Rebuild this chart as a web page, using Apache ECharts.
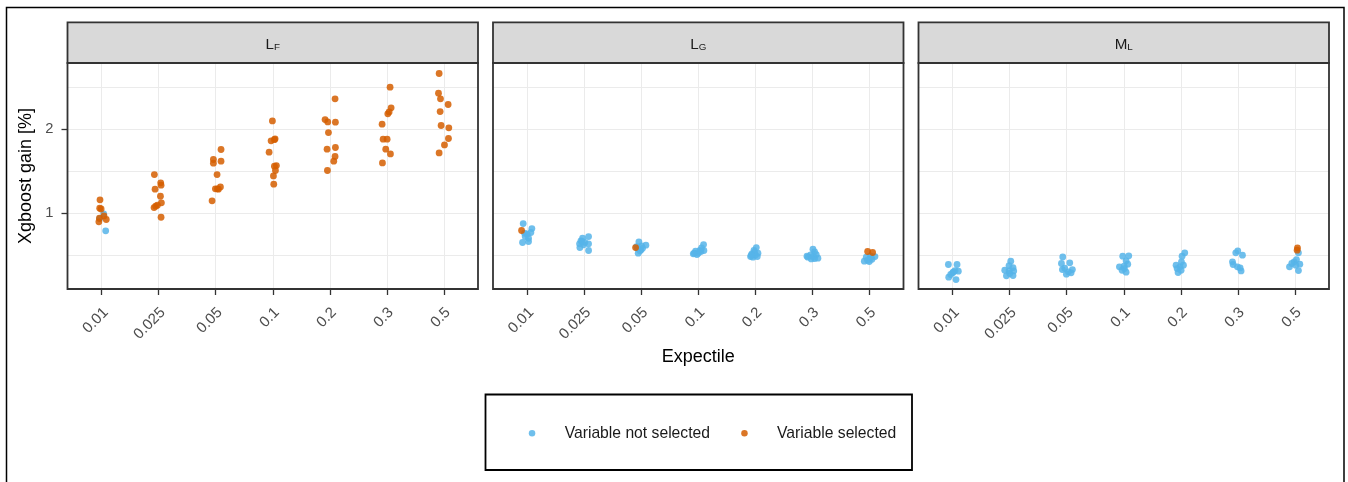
<!DOCTYPE html>
<html><head><meta charset="utf-8">
<script src="https://cdn.jsdelivr.net/npm/echarts@6/dist/echarts.min.js"></script>
<style>html,body{margin:0;padding:0;background:#fff}#c{width:1348px;height:482px}</style>
</head><body><div id="c"></div>
<script>
// ---------- data ----------
const categories = ['0.01', '0.025', '0.05', '0.1', '0.2', '0.3', '0.5'];
const stripMain = ['L', 'L', 'M'];
const stripSub = ['F', 'G', 'L'];
const yTickValues = [1, 2];
const seriesNames = ['Variable not selected', 'Variable selected'];

// each point: [category index, horizontal jitter, gain %]
const lfNotSelected = [[0,0.035,0.992],[0,0.07,0.79],[0,-0.035,0.936]];
const lfSelected = [
  [0,-0.03,1.159],[0,-0.035,1.06],[0,-0.01,1.05],[0,0.04,0.968],[0,-0.04,0.94],[0,0.08,0.925],[0,-0.05,0.897],
  [1,-0.076,1.46],[1,0.035,1.361],[1,0.041,1.333],[1,-0.064,1.286],[1,0.03,1.202],[1,0.047,1.123],[1,-0.023,1.095],[1,-0.053,1.083],[1,-0.082,1.067],[1,0.041,0.952],
  [2,0.093,1.758],[2,-0.041,1.639],[2,-0.041,1.595],[2,0.093,1.619],[2,0.023,1.46],[2,0.082,1.313],[2,-0.006,1.29],[2,0.047,1.286],[2,0.03,1.29],[2,-0.064,1.147],
  [3,-0.006,2.099],[3,0.041,1.885],[3,-0.029,1.861],[3,0.029,1.875],[3,-0.064,1.726],[3,0.064,1.567],[3,0.029,1.56],[3,0.047,1.508],[3,0.012,1.444],[3,0.018,1.345],
  [4,0.093,2.361],[4,-0.082,2.115],[4,-0.035,2.087],[4,0.099,2.083],[4,-0.023,1.96],[4,-0.047,1.762],[4,0.099,1.782],[4,0.093,1.675],[4,0.07,1.619],[4,-0.041,1.508],
  [5,0.058,2.5],[5,0.076,2.254],[5,0.041,2.206],[5,0.018,2.183],[5,-0.082,2.06],[5,-0.064,1.881],[5,0.006,1.881],[5,-0.018,1.762],[5,0.064,1.706],[5,-0.076,1.599],
  [6,-0.082,2.663],[6,-0.093,2.429],[6,-0.058,2.361],[6,0.076,2.294],[6,-0.064,2.21],[6,-0.047,2.044],[6,0.088,2.016],[6,0.082,1.889],[6,0.012,1.813],[6,-0.082,1.718]
];
const lgNotSelected = [
  [0,-0.07,0.877],[0,0.082,0.817],[0,0.064,0.77],[0,-0.047,0.762],[0,0,0.75],[0,0.023,0.702],[0,-0.082,0.651],[0,0.023,0.663],[0,-0.035,0.722],
  [1,0.076,0.722],[1,-0.029,0.702],[1,-0.058,0.671],[1,0.012,0.651],[1,0.076,0.635],[1,-0.082,0.635],[1,-0.012,0.623],[1,-0.076,0.591],[1,0.076,0.556],[1,-0.04,0.663],
  [2,-0.041,0.659],[2,0.082,0.619],[2,0.006,0.611],[2,-0.064,0.579],[2,-0.006,0.563],[2,-0.053,0.524],[2,-0.023,0.552],[2,-0.082,0.603],[2,0.023,0.583],
  [3,0.093,0.627],[3,0.058,0.587],[3,0.099,0.556],[3,0.029,0.556],[3,-0.047,0.548],[3,-0.07,0.524],[3,0,0.524],[3,-0.023,0.508],[3,0.047,0.544],[3,-0.087,0.516],
  [4,0.018,0.591],[4,-0.023,0.556],[4,0.047,0.524],[4,-0.058,0.516],[4,0,0.5],[4,-0.082,0.484],[4,-0.041,0.476],[4,0.035,0.484],[4,-0.012,0.536],[4,-0.07,0.5],
  [5,0.012,0.571],[5,0.041,0.54],[5,0.07,0.508],[5,-0.093,0.488],[5,-0.029,0.504],[5,0.041,0.46],[5,0.099,0.464],[5,-0.076,0.476],[5,0.012,0.484],[5,-0.018,0.456],
  [6,0.099,0.484],[6,0.029,0.472],[6,-0.053,0.476],[6,-0.087,0.429],[6,0,0.425],[6,0.047,0.452],[6,-0.029,0.44],[6,0.018,0.492]
];
const lgSelected = [[0,-0.099,0.794],[2,-0.099,0.591],[6,-0.029,0.544],[6,0.058,0.532]];
const mlNotSelected = [
  [0,-0.076,0.389],[0,0.076,0.389],[0,0.041,0.317],[0,0.099,0.31],[0,0,0.29],[0,-0.035,0.27],[0,-0.07,0.238],[0,0.058,0.21],[0,0.012,0.302],
  [1,0.018,0.429],[1,-0.012,0.377],[1,0.058,0.353],[1,-0.087,0.321],[1,-0.012,0.313],[1,0.07,0.313],[1,-0.058,0.254],[1,0.058,0.258],[1,0,0.282],
  [2,-0.07,0.48],[2,-0.093,0.401],[2,0.053,0.409],[2,-0.035,0.345],[2,0.099,0.329],[2,-0.076,0.329],[2,0.029,0.302],[2,-0.006,0.274],[2,0.076,0.29],
  [3,-0.018,0.488],[3,0.088,0.492],[3,0.041,0.433],[3,0.07,0.393],[3,-0.076,0.361],[3,0.006,0.369],[3,-0.029,0.321],[3,0.041,0.298],[3,0.012,0.341],
  [4,0.07,0.528],[4,0.023,0.488],[4,0.012,0.421],[4,-0.082,0.381],[4,-0.012,0.361],[4,0.047,0.381],[4,-0.064,0.341],[4,-0.047,0.294],[4,0.006,0.321],
  [5,0,0.552],[5,0.082,0.5],[5,-0.093,0.421],[5,-0.082,0.389],[5,0.041,0.349],[5,0.058,0.313],[5,-0.006,0.361],[5,-0.035,0.528],
  [6,0.064,0.528],[6,0.029,0.448],[6,-0.012,0.421],[6,0.088,0.393],[6,-0.053,0.401],[6,-0.093,0.361],[6,0.064,0.317],[6,0.018,0.381]
];
const mlSelected = [[6,0.047,0.587],[6,0.041,0.56]];

const panelData = [
  [lfNotSelected, lfSelected],
  [lgNotSelected, lgSelected],
  [mlNotSelected, mlSelected]
];

// ---------- styling / layout ----------
const FONT = 'Liberation Sans, Arial, Helvetica, sans-serif';
const COLORS = ['#56B4E9', '#D55E00'];
const Y_MIN = 0.0976, Y_MAX = 2.788;
const X_MIN = -0.6, X_MAX = 6.6;
const PANEL_LEFT = [67.5, 493, 918.5];
const PW = 410.5, TOP = 63, PH = 226;
const STRIP_TOP = 22.3, STRIP_H = 40.7;
function yPix(v) { return TOP + (Y_MAX - v) / (Y_MAX - Y_MIN) * PH; }

const grid = [], xAxis = [], yAxis = [], series = [], graphic = [];
const hidden = { show: false };
const off = { axisLine: hidden, axisTick: hidden, axisLabel: hidden, splitLine: hidden };

for (let p = 0; p < 3; p++) {
  const L = PANEL_LEFT[p];
  const g0 = grid.length;
  // A: data grid
  grid.push({ left: L, top: TOP, width: PW, height: PH });
  xAxis.push(Object.assign({ gridIndex: g0, type: 'value', min: X_MIN, max: X_MAX,
    name: p === 1 ? 'Expectile' : '', nameLocation: 'middle', nameGap: 59,
    nameTextStyle: { fontSize: 18, color: '#000', fontFamily: FONT } }, off));
  yAxis.push(Object.assign({ gridIndex: g0, type: 'value', min: Y_MIN, max: Y_MAX,
    name: p === 0 ? 'Xgboost gain [%]' : '', nameLocation: 'middle', nameGap: 32,
    nameTextStyle: { fontSize: 18, color: '#000', fontFamily: FONT } }, off));
  // B: horizontal grid lines (0.5 .. 2.5)
  grid.push({ left: L, width: PW, top: yPix(2.5), height: yPix(0.5) - yPix(2.5) });
  xAxis.push({ gridIndex: g0 + 1, type: 'value', min: 0, max: 1, show: false });
  yAxis.push({ gridIndex: g0 + 1, type: 'value', min: 0.5, max: 2.5, interval: 0.5,
    axisLine: hidden, axisTick: hidden, axisLabel: hidden,
    splitLine: { show: true, lineStyle: { color: '#EBEBEB', width: 1 } } });
  // C: y ticks and labels (left panel only)
  grid.push({ left: L, width: PW, top: yPix(yTickValues[1]), height: yPix(yTickValues[0]) - yPix(yTickValues[1]) });
  xAxis.push({ gridIndex: g0 + 2, type: 'value', min: 0, max: 1, show: false });
  yAxis.push({ gridIndex: g0 + 2, type: 'value', min: yTickValues[0], max: yTickValues[1], interval: 1,
    show: p === 0, axisLine: hidden, splitLine: hidden,
    axisTick: { show: true, length: 6, lineStyle: { color: '#333', width: 1.3 } },
    axisLabel: { show: true, fontSize: 14.7, color: '#4D4D4D', fontFamily: FONT, margin: 14 } });
  // D: x ticks, labels and vertical grid lines
  grid.push({ left: L + (0 - X_MIN) / (X_MAX - X_MIN) * PW, width: 6 / (X_MAX - X_MIN) * PW, top: TOP, height: PH });
  xAxis.push({ gridIndex: g0 + 3, type: 'value', min: 0, max: categories.length - 1, interval: 1,
    axisLine: hidden,
    axisTick: { show: true, length: 6, lineStyle: { color: '#333', width: 1.3 } },
    axisLabel: { show: true, rotate: 45, margin: 17, fontSize: 15, color: '#4D4D4D', fontFamily: FONT,
      verticalAlign: 'top', lineHeight: 12,
      formatter: v => categories[Math.round(v)] },
    splitLine: { show: true, lineStyle: { color: '#EBEBEB', width: 1 } } });
  yAxis.push({ gridIndex: g0 + 3, type: 'value', min: 0, max: 1, show: false });

  // series
  for (let s = 0; s < 2; s++) {
    series.push({
      type: 'scatter', name: seriesNames[s], xAxisIndex: g0, yAxisIndex: g0,
      symbol: 'circle', symbolSize: 6.8, clip: false, silent: true,
      itemStyle: { color: COLORS[s], opacity: 0.85 },
      data: panelData[p][s].map(d => [d[0] + d[1], d[2]])
    });
  }

  // strip
  graphic.push({ type: 'rect', z: 100, shape: { x: L, y: STRIP_TOP, width: PW, height: STRIP_H },
    style: { fill: '#D9D9D9', stroke: '#333', lineWidth: 1.8 } });
  graphic.push({ type: 'text', z: 101, x: L + PW / 2, y: STRIP_TOP + STRIP_H / 2 + 1,
    style: { text: '{m|' + stripMain[p] + '}{s|' + stripSub[p] + '}', align: 'center', verticalAlign: 'middle',
      rich: { m: { fontSize: 15.2, fontFamily: FONT, fill: '#1A1A1A', lineHeight: 18, verticalAlign: 'bottom' },
              s: { fontSize: 9.8, fontFamily: FONT, fill: '#1A1A1A', lineHeight: 10, verticalAlign: 'bottom' } } } });
  // panel border
  graphic.push({ type: 'rect', z: 100, shape: { x: L, y: TOP, width: PW, height: PH },
    style: { fill: 'none', stroke: '#333', lineWidth: 1.8 } });
}

// outer frame and legend box
graphic.push({ type: 'rect', z: 100, shape: { x: 6.5, y: 7.5, width: 1337.5, height: 520 },
  style: { fill: 'none', stroke: '#000', lineWidth: 1.5 } });
graphic.push({ type: 'rect', z: 100, shape: { x: 485.5, y: 394.5, width: 426.5, height: 75.5 },
  style: { fill: 'none', stroke: '#000', lineWidth: 1.8 } });

const legendCommon = { orient: 'horizontal', itemWidth: 55.2, itemHeight: 6.5, padding: 0, selectedMode: false,
  icon: 'circle', top: 423.3, textStyle: { fontSize: 15.7, color: '#1A1A1A', fontFamily: FONT, lineHeight: 20 } };
const legend = [
  Object.assign({ data: [seriesNames[0]], left: 528.8 }, legendCommon),
  Object.assign({ data: [seriesNames[1]], left: 741.2 }, legendCommon)
];

const chart = echarts.init(document.getElementById('c'), null, { renderer: 'canvas' });
chart.setOption({ animation: false, backgroundColor: '#fff', grid, xAxis, yAxis, series, graphic, legend });
</script>
</body></html>
